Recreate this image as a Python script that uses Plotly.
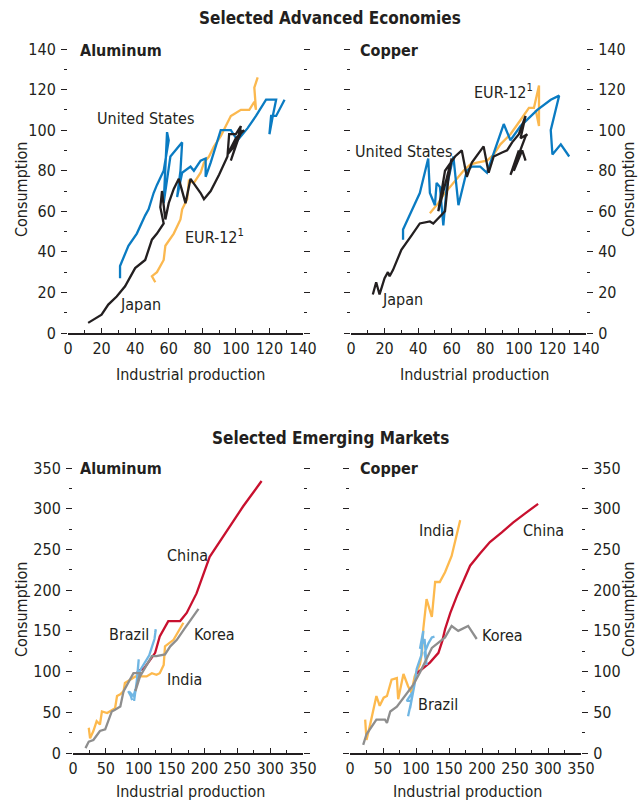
import plotly.graph_objects as go

# ---------------- data ----------------
# Advanced economies, aluminum
al_jpn_x = [12,16,20,24,29,34,40,46,50,53,57,55,56,58,60,63,66,70,73,79,81,85,90,95,96,100,103,101,97,102,104,99,95,100,105]
al_jpn_y = [5,7,9,14,18,23,32,36,46,49,54,62,70,56,64,71,76,64,76,69,66,70,78,87,98,98,102,95,85,97,100,92,88,96,100]
al_us_x = [31,31,36,41,46,48,51,53,57,60,59,57,61,68,67,65,68,73,75,79,82,82,85,91,97,101,107,112,118,124,122,120,121,124,129]
al_us_y = [27,33,43,49,58,61,69,73,80,95,99,64,87,94,80,67,79,82,80,85,86,77,84,100,100,95,101,107,115,115,107,98,107,107,115]
al_eur_x = [52,50,53,57,58,63,67,68,71,72,75,79,81,84,87,91,94,97,99,103,108,111,112,111,113]
al_eur_y = [25,28,30,36,43,49,56,61,66,75,74,79,84,87,92,97,102,107,108,110,110,114,110,121,126]

# Advanced economies, copper
cu_jpn_x = [13,15,17,20,22,23,25,30,36,41,47,49,56,58,60,52,56,62,66,69,72,79,82,85,90,93,96,100,104,101,105,104,99,95,100,97,102,104]
cu_jpn_y = [19,25,19,27,30,28,31,41,48,54,55,54,60,76,86,60,80,87,90,77,84,92,79,87,89,90,94,98,107,96,98,97,86,78,90,80,90,85]
cu_us_x = [31,31,36,41,46,47,50,51,53,55,57,61,64,69,72,77,81,91,95,101,111,119,124,119,120,125,130]
cu_us_y = [46,51,60,69,86,69,63,74,72,53,72,87,63,80,82,82,79,103,95,102,110,115,117,100,88,93,87]
cu_eur_x = [47,52,55,59,63,67,71,75,81,85,89,95,101,106,109,112,112,110]
cu_eur_y = [59,64,68,72,76,80,83,84,85,88,93,98,105,111,111,122,102,110]

# Emerging markets, aluminum
em_al_chn_x = [97,100,108,112,118,125,132,145,155,163,173,188,208,224,239,259,287]
em_al_chn_y = [98,101,104,108,115,123,143,162,162,162,172,196,241,260,278,303,334]
em_al_kor_x = [19,24,31,41,49,59,64,72,77,84,92,102,95,102,112,120,127,140,148,158,170,191]
em_al_kor_y = [6,14,16,27,29,51,53,57,76,86,98,98,76,94,108,119,119,121,131,139,153,177]
em_al_ind_x = [24,26,31,36,41,44,52,64,67,72,77,79,87,95,102,112,120,127,132,138,140,153,168]
em_al_ind_y = [31,18,27,39,35,51,49,55,70,72,76,86,90,94,94,94,98,96,98,108,131,139,160]
em_al_bra_x = [84,88,90,86,92,95,93,97,100,98,104,110,116,120,124,126,125]
em_al_bra_y = [76,70,65,75,70,78,64,88,115,95,104,112,120,130,140,152,148]

# Emerging markets, copper
em_cu_chn_x = [100,106,121,134,140,144,152,162,172,182,197,212,230,247,265,285]
em_cu_chn_y = [97,101,111,123,138,152,172,193,212,230,245,259,271,283,294,306]
em_cu_kor_x = [20,25,40,53,56,61,71,86,96,106,116,124,144,154,164,179,192]
em_cu_kor_y = [10,23,41,41,37,51,57,74,84,99,115,129,142,156,150,156,140]
em_cu_ind_x = [23,25,30,35,40,45,51,56,63,71,73,81,88,93,98,106,109,111,116,124,129,136,144,154,162,167]
em_cu_ind_y = [41,16,33,53,70,58,68,70,90,92,66,97,82,74,94,109,123,152,189,167,210,210,222,242,267,286]
em_cu_bra_x = [88,93,86,95,91,98,101,104,108,111,106,113,116,113,119,124,128]
em_cu_bra_y = [45,64,64,75,55,85,103,110,120,150,128,140,108,123,135,142,143]

adv_ticks = [0,20,40,60,80,100,120,140]
em_ticks = [0,50,100,150,200,250,300,350]

# ---------------- styling ----------------
W, H = 639, 805
FONT = "DejaVu Sans Condensed, Liberation Sans Narrow, Roboto, sans-serif"
TXT = "#231f20"
C_US = "#0a7bc2"
C_EUR = "#fbb84f"
C_JPN = "#231f20"
C_CHN = "#c8102e"
C_IND = "#fdb94d"
C_BRA = "#70b6e3"
C_KOR = "#8e8e8e"

fig = go.Figure()

def px2x(px):
    return px / W

def px2y(py):
    return 1 - py / H

def add_line(x, y, color, xa, ya, width=2.3):
    fig.add_trace(go.Scatter(x=x, y=y, mode="lines", line=dict(color=color, width=width),
                             xaxis=xa, yaxis=ya, showlegend=False, hoverinfo="skip"))

add_line(al_eur_x, al_eur_y, C_EUR, "x", "y")
add_line(al_us_x, al_us_y, C_US, "x", "y")
add_line(al_jpn_x, al_jpn_y, C_JPN, "x", "y")

add_line(cu_eur_x, cu_eur_y, C_EUR, "x2", "y2")
add_line(cu_us_x, cu_us_y, C_US, "x2", "y2")
add_line(cu_jpn_x, cu_jpn_y, C_JPN, "x2", "y2")

add_line(em_al_ind_x, em_al_ind_y, C_IND, "x3", "y3")
add_line(em_al_chn_x, em_al_chn_y, C_CHN, "x3", "y3")
add_line(em_al_bra_x, em_al_bra_y, C_BRA, "x3", "y3")
add_line(em_al_kor_x, em_al_kor_y, C_KOR, "x3", "y3")

add_line(em_cu_ind_x, em_cu_ind_y, C_IND, "x4", "y4")
add_line(em_cu_chn_x, em_cu_chn_y, C_CHN, "x4", "y4")
add_line(em_cu_bra_x, em_cu_bra_y, C_BRA, "x4", "y4")
add_line(em_cu_kor_x, em_cu_kor_y, C_KOR, "x4", "y4")

tickfont = dict(family=FONT, size=16, color=TXT)

def xaxis(dom, anchor, ticks, rng, mdt):
    return dict(domain=dom, anchor=anchor, range=rng, tickvals=ticks, showgrid=False, zeroline=False,
                showline=True, linecolor=TXT, linewidth=1.5, ticks="inside", ticklen=5, tickcolor=TXT,
                tickwidth=1.2, tickfont=tickfont, fixedrange=True, automargin=False,
                minor=dict(dtick=mdt, tick0=0, ticks="inside", ticklen=3, tickcolor=TXT, tickwidth=1.2))

def yaxis(dom, anchor, ticks, rng, mdt, side):
    return dict(domain=dom, anchor=anchor, range=rng, tickvals=ticks, showgrid=False, zeroline=False,
                showline=False, ticks="outside", ticklen=6, tickcolor=TXT, tickwidth=1.2, mirror="ticks",
                side=side, tickfont=tickfont, fixedrange=True, ticklabelstandoff=2, automargin=False,
                minor=dict(dtick=mdt, tick0=0, ticks="outside", ticklen=3, tickcolor=TXT, tickwidth=1.2))

top_y = [px2y(333), px2y(49)]
bot_y = [px2y(753), px2y(468)]

fig.update_layout(
    width=W, height=H, margin=dict(l=0, r=0, t=0, b=0, pad=0), autosize=False,
    paper_bgcolor="white", plot_bgcolor="white",
    font=dict(family=FONT, color=TXT, size=16),
    xaxis=xaxis([px2x(68), px2x(303)], "y", adv_ticks, [0, 140], 10),
    yaxis=yaxis(top_y, "x", adv_ticks, [0, 140], 10, "left"),
    xaxis2=xaxis([px2x(351), px2x(586)], "y2", adv_ticks, [0, 140], 10),
    yaxis2=yaxis(top_y, "x2", adv_ticks, [0, 140], 10, "right"),
    xaxis3=xaxis([px2x(73), px2x(303)], "y3", em_ticks, [0, 350], 25),
    yaxis3=yaxis(bot_y, "x3", em_ticks, [0, 350], 25, "left"),
    xaxis4=xaxis([px2x(350), px2x(581)], "y4", em_ticks, [0, 350], 25),
    yaxis4=yaxis(bot_y, "x4", em_ticks, [0, 350], 25, "right"),
)

ann = []

def paper_text(text, px, py, size=16, bold=False, angle=0, xanchor="center"):
    t = f"<b>{text}</b>" if bold else text
    ann.append(dict(text=t, x=px2x(px), y=px2y(py), xref="paper", yref="paper", showarrow=False,
                    xanchor=xanchor, yanchor="middle", textangle=angle,
                    font=dict(family=FONT, size=size, color=TXT)))

def data_text(text, x, y, xa, ya, xanchor="left"):
    ann.append(dict(text=text, x=x, y=y, xref=xa, yref=ya, showarrow=False, xanchor=xanchor,
                    yanchor="middle", font=dict(family=FONT, size=16, color=TXT)))

paper_text("Selected Advanced Economies", 330, 18, size=17, bold=True)
paper_text("Selected Emerging Markets", 330, 438, size=17, bold=True)
paper_text("Aluminum", 78, 50, bold=True, xanchor="left")
paper_text("Copper", 358, 50, bold=True, xanchor="left")
paper_text("Aluminum", 78, 468, bold=True, xanchor="left")
paper_text("Copper", 358, 468, bold=True, xanchor="left")
for cx, cy in [(21, 190), (628, 190), (21, 610), (628, 610)]:
    paper_text("Consumption", cx, cy, angle=-90)
for cx, cy in [(190, 374), (474, 374), (190, 791), (467, 791)]:
    paper_text("Industrial production", cx, cy)

data_text("United States", 46, 105.5, "x", "y", xanchor="center")
data_text("EUR-12<sup>1</sup>", 68.5, 47.5, "x", "y")
data_text("Japan", 30, 14, "x", "y")
data_text("United States", 1.2, 89.7, "x2", "y2")
data_text("EUR-12<sup>1</sup>", 72, 119, "x2", "y2")
data_text("Japan", 17.3, 16.3, "x2", "y2")
data_text("China", 140, 243, "x3", "y3")
data_text("Brazil", 52, 145, "x3", "y3")
data_text("Korea", 181, 145, "x3", "y3")
data_text("India", 140, 90, "x3", "y3")
data_text("India", 101.5, 272.7, "x4", "y4")
data_text("China", 259, 272.7, "x4", "y4")
data_text("Korea", 197, 143.7, "x4", "y4")
data_text("Brazil", 100, 59, "x4", "y4")

fig.update_layout(annotations=ann)
fig.write_html("out.html", config={"displayModeBar": False},
               post_script="document.body.style.margin='0';document.body.style.overflow='hidden';")
